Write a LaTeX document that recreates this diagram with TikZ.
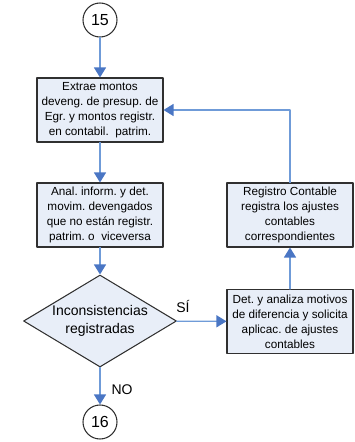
\documentclass[tikz,border=0pt]{standalone}
\usepackage{fontspec}
\setmainfont{Liberation Sans}
\usetikzlibrary{arrows.meta, shapes.geometric}
\definecolor{linea}{HTML}{6F9BD8}
\definecolor{punta}{HTML}{4A76C4}
\definecolor{relleno}{HTML}{E8EEF8}
\definecolor{borde}{HTML}{303030}
\frenchspacing

\begin{document}
\begin{tikzpicture}[x=0.75pt, y=-0.75pt, line cap=round, line join=round,
    caja/.style={draw=borde, fill=relleno, line width=0.8pt, minimum width=94.5pt, minimum height=48pt,
      inner sep=1pt, align=center, font=\fontsize{8.8}{11.25}\selectfont},
    rombo/.style={draw=borde, fill=relleno, line width=0.8pt, diamond, aspect=1.66, inner sep=0pt,
      minimum width=114.75pt, minimum height=69pt, align=center, font=\fontsize{10.5}{13.3}\selectfont},
    circulo/.style={draw=borde, fill=white, circle, line width=0.8pt, minimum size=25.5pt, inner sep=0pt,
      font=\fontsize{12}{14}\selectfont},
    flecha/.style={draw=linea, line width=0.9pt, -{Triangle[width=9pt, length=7.5pt, color=punta]}},
    etiq/.style={font=\fontsize{10.5}{12}\selectfont}]
  \useasboundingbox (0,0) rectangle (354,442);

  % conectores de pagina
  \node[circulo] (c15) at (100,20) {15};
  \node[circulo] (c16) at (100,422) {16};

  % columna izquierda
  \node[caja] (extrae) at (100,110) {Extrae montos\\ deveng. de presup. de\\ Egr. y montos registr.\\ en contabil.\ \ patrim.};
  \node[caja] (anal) at (100,215) {Anal. inform. y det.\\ movim. devengados\\ que no están registr.\\ patrim. o \ viceversa};
  \node[rombo] (incons) at (100,321) {Inconsistencias\\ registradas};

  % columna derecha
  \node[caja] (detana) at (290,321.5) {Det. y analiza motivos\\ de diferencia y solicita\\ aplicac. de ajustes\\ contables};
  \node[caja] (regcont) at (290,215) {Registro Contable\\ registra los ajustes\\ contables\\ correspondientes};

  % flechas
  \draw[flecha] (c15) -- (extrae);
  \draw[flecha] (extrae) -- (anal);
  \draw[flecha] (anal) -- (incons);
  \draw[flecha] (incons) -- (detana);
  \draw[flecha] (detana) -- (regcont);
  \draw[flecha] (regcont.north) |- (extrae.east);
  \draw[flecha] (incons) -- (c16);

  % etiquetas
  \node[etiq] (si) at (183,306) {SÍ};
  \node[etiq] (no) at (122,390) {NO};
\end{tikzpicture}
\end{document}
